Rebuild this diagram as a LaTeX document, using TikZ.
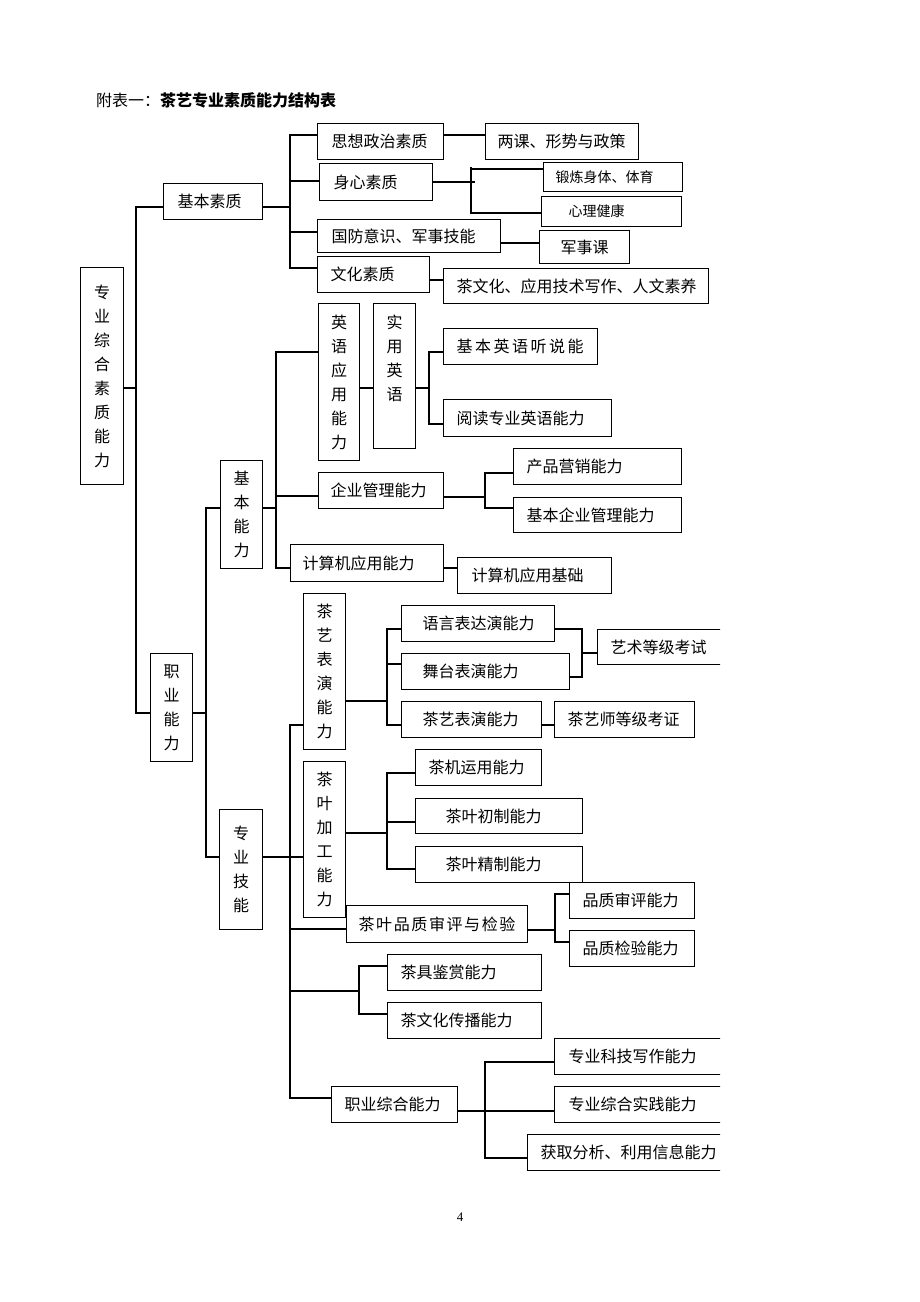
\documentclass[tikz,border=0pt]{standalone}
\usepackage{fontspec}
\setmainfont{Noto Sans CJK SC}
\newfontfamily\numfont{Liberation Serif}
\tikzset{
  box/.style={draw, line width=1.2pt, rectangle, inner sep=0pt, font=\fontsize{16}{24}\selectfont},
  conn/.style={line width=1.2pt, line cap=rect}
}
\newcommand\hb[7]{\node[box, anchor=north west, minimum height={(#5-#3)*1pt}] (#1) at (#2,#3) {\makebox[\dimexpr #4pt-#2pt\relax][l]{\hspace{#6pt}#7}};}
\newcommand\vb[6]{\node[box, anchor=north west, minimum width={(#4-#2)*1pt}, minimum height={(#5-#3)*1pt}, align=center] (#1) at (#2,#3) {#6};}
\newcommand\lsp{\hspace{2.5pt}}
\newcommand\lspb{\hspace{1.6pt}}
\begin{document}
\begin{tikzpicture}[x=1pt,y=-1pt]
\useasboundingbox (0,0) rectangle (920,1302);
\node[anchor=west, inner sep=0pt, font=\fontsize{16}{20}\selectfont] (title) at (96,100) {附表一：\textbf{茶艺专业素质能力结构表}};
% vertical boxes
\vb{root}{80}{267}{123}{484}{专\\业\\综\\合\\素\\质\\能\\力}
\vb{zynl}{150}{653}{192}{761}{职\\业\\能\\力}
\vb{jbnl}{220}{460}{262}{568}{基\\本\\能\\力}
\vb{zyjn}{219}{809}{262}{929}{专\\业\\技\\能}
\vb{yyyy}{318}{303}{359}{460}{英\\语\\应\\用\\能\\力}
\vb{syyy}{373}{303}{415}{448}{实\\用\\英\\语\\[11pt]\phantom{语}}
\vb{cybx}{303}{593}{345}{749}{茶\\艺\\表\\演\\能\\力}
\vb{cyjg}{303}{761}{345}{917}{茶\\叶\\加\\工\\能\\力}
% basic quality
\hb{szzz}{317}{123}{443}{159}{14}{思想政治素质}
\hb{sxsz}{319}{163}{432}{200}{14}{身心素质}
\hb{jbsz}{163}{183}{262}{219}{14}{基本素质}
\hb{gfys}{317}{219}{500}{252}{14}{国防意识、军事技能}
\hb{whsz}{317}{256}{429}{292}{13}{文化素质}
\hb{lk}{485}{123}{638}{159}{12}{两课、形势与政策}
\hb{dl}{543}{162}{682}{191}{12}{\fontsize{14}{16}\selectfont 锻炼身体、体育}
\hb{xl}{541}{196}{681}{226}{27}{\fontsize{14}{16}\selectfont 心理健康}
\hb{jsk}{539}{230}{629}{263}{21}{军事课}
\hb{chwh}{443}{268}{708}{303}{13}{茶文化、应用技术写作、人文素养}
% basic ability
\hb{qygl}{318}{472}{443}{508}{12}{企业管理能力}
\hb{jsj}{290}{544}{443}{581}{12}{计算机应用能力}
\hb{jbyy}{443}{328}{597}{364}{13}{基\lsp 本\lsp 英\lsp 语\lsp 听\lsp 说\lsp 能}
\hb{ydzy}{443}{399}{611}{436}{13}{阅读专业英语能力}
\hb{cpyx}{513}{448}{681}{484}{13}{产品营销能力}
\hb{jbqy}{513}{497}{681}{532}{13}{基本企业管理能力}
\hb{jsjj}{457}{557}{611}{593}{14}{计算机应用基础}
% professional skills
\hb{yybd}{401}{605}{554}{641}{21}{语言表达演能力}
\hb{wtby}{401}{653}{569}{689}{21}{舞台表演能力}
\hb{cybyh}{401}{701}{541}{737}{21}{茶艺表演能力}
\hb{cysd}{554}{701}{694}{737}{13}{茶艺师等级考证}
\hb{cjyy}{415}{749}{541}{785}{13}{茶机运用能力}
\hb{ycz}{415}{798}{582}{833}{30}{茶叶初制能力}
\hb{yjz}{415}{846}{582}{882}{30}{茶叶精制能力}
\hb{pzsp}{346}{905}{527}{942}{12}{茶\lspb 叶\lspb 品\lspb 质\lspb 审\lspb 评\lspb 与\lspb 检\lspb 验}
\hb{pzsh}{569}{882}{694}{918}{13}{品质审评能力}
\hb{pzjy}{569}{930}{694}{966}{13}{品质检验能力}
\hb{cjjs}{387}{954}{541}{990}{13}{茶具鉴赏能力}
\hb{cwhcb}{387}{1002}{541}{1038}{13}{茶文化传播能力}
\hb{zyzh}{331}{1086}{457}{1122}{13}{职业综合能力}
\begin{scope}
\clip (0,0) rectangle (720,1302);
\hb{ysdj}{597}{629}{760}{664}{13}{艺术等级考试}
\hb{kjxz}{554}{1038}{760}{1074}{14}{专业科技写作能力}
\hb{zhsj}{554}{1086}{760}{1122}{14}{专业综合实践能力}
\hb{hqfx}{527}{1134}{760}{1170}{13}{获取分析、利用信息能力}
\end{scope}
% connectors level 0
\draw[conn] (root.east |- 0,388) -- (136,388);
\draw[conn] (136,207) -- (136,713);
\draw[conn] (136,207) -- (jbsz.west |- 0,207);
\draw[conn] (136,713) -- (zynl.west |- 0,713);
% basic quality
\draw[conn] (jbsz.east |- 0,207) -- (290,207);
\draw[conn] (290,135) -- (290,268);
\draw[conn] (290,135) -- (szzz.west |- 0,135);
\draw[conn] (290,181) -- (sxsz.west |- 0,181);
\draw[conn] (290,232) -- (gfys.west |- 0,232);
\draw[conn] (290,268) -- (whsz.west |- 0,268);
\draw[conn] (szzz.east |- 0,135) -- (lk.west |- 0,135);
\draw[conn] (sxsz.east |- 0,182) -- (474,182);
\draw[conn] (471,168) -- (471,213);
\draw[conn] (471,169) -- (dl.west |- 0,169);
\draw[conn] (471,213) -- (xl.west |- 0,213);
\draw[conn] (gfys.east |- 0,243) -- (jsk.west |- 0,243);
\draw[conn] (whsz.east |- 0,280) -- (chwh.west |- 0,280);
% career ability
\draw[conn] (zynl.east |- 0,713) -- (206,713);
\draw[conn] (206,508) -- (206,857);
\draw[conn] (206,508) -- (jbnl.west |- 0,508);
\draw[conn] (206,857) -- (zyjn.west |- 0,857);
% basic ability
\draw[conn] (jbnl.east |- 0,508) -- (276,508);
\draw[conn] (276,352) -- (276,568);
\draw[conn] (276,352) -- (yyyy.west |- 0,352);
\draw[conn] (276,496) -- (qygl.west |- 0,496);
\draw[conn] (276,568) -- (jsj.west |- 0,568);
\draw[conn] (yyyy.east |- 0,388) -- (syyy.west |- 0,388);
\draw[conn] (syyy.east |- 0,388) -- (429,388);
\draw[conn] (429,352) -- (429,424);
\draw[conn] (429,352) -- (jbyy.west |- 0,352);
\draw[conn] (429,424) -- (ydzy.west |- 0,424);
\draw[conn] (qygl.east |- 0,497) -- (485,497);
\draw[conn] (485,473) -- (485,508);
\draw[conn] (485,473) -- (cpyx.west |- 0,473);
\draw[conn] (485,508) -- (jbqy.west |- 0,508);
\draw[conn] (jsj.east |- 0,568) -- (jsjj.west |- 0,568);
% professional skills
\draw[conn] (zyjn.east |- 0,857) -- (290,857);
\draw[conn] (290,725) -- (290,1098);
\draw[conn] (290,725) -- (cybx.west |- 0,725);
\draw[conn] (290,857) -- (cyjg.west |- 0,857);
\draw[conn] (290,929) -- (pzsp.west |- 0,929);
\draw[conn] (290,991) -- (359,991);
\draw[conn] (359,966) -- (359,1014);
\draw[conn] (359,966) -- (cjjs.west |- 0,966);
\draw[conn] (359,1014) -- (cwhcb.west |- 0,1014);
\draw[conn] (290,1098) -- (zyzh.west |- 0,1098);
\draw[conn] (cybx.east |- 0,701) -- (387,701);
\draw[conn] (387,629) -- (387,725);
\draw[conn] (387,629) -- (yybd.west |- 0,629);
\draw[conn] (387,664) -- (wtby.west |- 0,664);
\draw[conn] (387,725) -- (cybyh.west |- 0,725);
\draw[conn] (yybd.east |- 0,629) -- (582,629) -- (582,677) -- (wtby.east |- 0,677);
\draw[conn] (582,653) -- (ysdj.west |- 0,653);
\draw[conn] (cybyh.east |- 0,725) -- (cysd.west |- 0,725);
\draw[conn] (cyjg.east |- 0,833) -- (387,833);
\draw[conn] (387,773) -- (387,869);
\draw[conn] (387,773) -- (cjyy.west |- 0,773);
\draw[conn] (387,822) -- (ycz.west |- 0,822);
\draw[conn] (387,869) -- (yjz.west |- 0,869);
\draw[conn] (pzsp.east |- 0,930) -- (555,930);
\draw[conn] (555,894) -- (555,942);
\draw[conn] (555,894) -- (pzsh.west |- 0,894);
\draw[conn] (555,942) -- (pzjy.west |- 0,942);
\draw[conn] (zyzh.east |- 0,1111) -- (485,1111);
\draw[conn] (485,1062) -- (485,1158);
\draw[conn] (485,1062) -- (kjxz.west |- 0,1062);
\draw[conn] (485,1111) -- (zhsj.west |- 0,1111);
\draw[conn] (485,1158) -- (hqfx.west |- 0,1158);
\node[inner sep=0pt, font=\numfont\fontsize{13}{15}\selectfont] (pg) at (460,1217) {4};
\end{tikzpicture}
\end{document}
